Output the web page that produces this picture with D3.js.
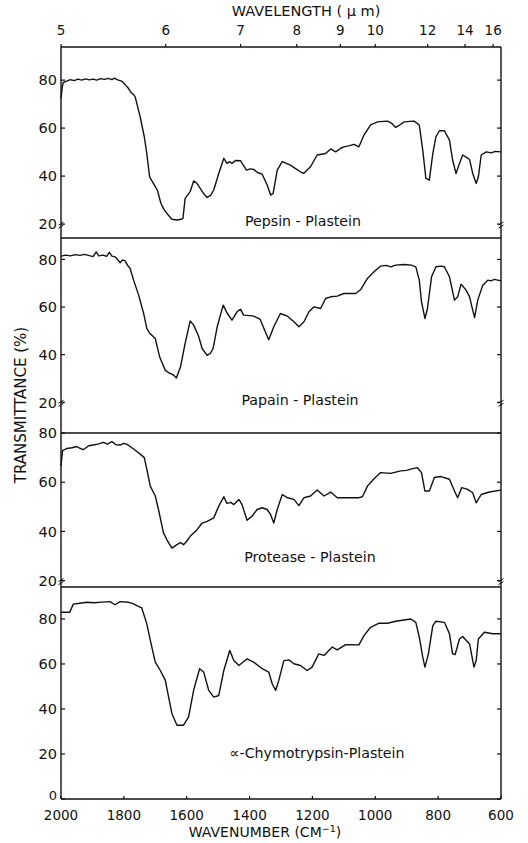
<!DOCTYPE html>
<html><head><meta charset="utf-8">
<script src="https://cdn.jsdelivr.net/npm/d3@7"></script>
<style>
html,body{margin:0;padding:0;background:#fff;}
svg{display:block;}
text{font-family:"DejaVu Sans",sans-serif;fill:#111;}
</style></head>
<body>
<svg id="c" width="528" height="843"></svg>
<script>
// ---- data (wavenumber cm-1, transmittance %) ----
const wavenumberTicks = [2000,1800,1600,1400,1200,1000,800,600];
const wavelengthTicks = [5,6,7,8,9,10,12,14,16];
const panelNames = ["Pepsin - Plastein","Papain - Plastein","Protease - Plastein","\u221D-Chymotrypsin-Plastein"];
const panelYTicks = [[20,40,60,80],[20,40,60,80],[20,40,60,80],[0,20,40,60,80]];

const pepsin = [[2000,72.4],[1996,77],[1993,79],[1982,79.6],[1970,80.2],[1958,79.8],[1946,80.4],[1934,80],[1922,80.5],[1910,80.1],[1898,80.4],[1886,80],[1874,80.6],[1862,80.3],[1850,80.7],[1838,80.2],[1830,80.8],[1820,80.1],[1807,79.6],[1795,78],[1785,76.5],[1775,74.5],[1769,74],[1764,73],[1748,64.7],[1735,56.4],[1727,49.4],[1718,39.7],[1706,37],[1693,34],[1682,28.6],[1672,26],[1663,24.4],[1647,22],[1631,21.7],[1618,22],[1612,22.4],[1605,30.7],[1589,33.5],[1578,38],[1567,36.9],[1557,34.9],[1545,32.5],[1535,31.1],[1524,32],[1514,34.2],[1498,41.1],[1482,47.4],[1472,45.3],[1464,46],[1456,45.3],[1445,46.5],[1429,46.4],[1410,42.5],[1398,43],[1387,42.8],[1375,41.5],[1360,40.8],[1344,36.3],[1333,32.1],[1325,32.8],[1312,42.5],[1296,46],[1270,44.6],[1250,42.8],[1238,41.8],[1228,41.1],[1206,43.9],[1185,48.8],[1158,49.4],[1142,51.3],[1126,50.1],[1110,51.6],[1100,52.2],[1085,52.6],[1068,53.2],[1052,52.2],[1036,57.1],[1015,61.3],[993,62.6],[975,62.8],[961,62.9],[948,62],[935,60.3],[920,61.5],[908,62.6],[890,62.8],[876,62.9],[860,61.3],[849,50.8],[839,39],[828,38.3],[817,49.4],[807,56.4],[796,58.9],[780,58.9],[764,55],[754,46.7],[743,41.1],[732,45.3],[722,48.8],[710,47.8],[700,46.9],[690,41.1],[679,36.9],[672,39.7],[663,48.8],[647,50.1],[631,49.7],[618,50.3],[600,50.1]];

const papain = [[2000,81.4],[1985,81.8],[1970,81.5],[1955,82],[1940,81.7],[1925,82.1],[1910,81.6],[1898,81.2],[1888,83.2],[1880,81.5],[1866,81.8],[1855,81.3],[1846,83],[1838,81.4],[1828,81.1],[1820,80],[1812,78.6],[1804,79.8],[1796,79.4],[1788,77.5],[1780,76.2],[1769,71.3],[1753,65],[1737,57.3],[1727,51],[1718,49],[1711,48.2],[1700,46.8],[1686,39],[1668,33.4],[1655,32.2],[1647,31.8],[1640,31.2],[1633,30.2],[1620,34.8],[1605,44.7],[1589,54.2],[1578,52.4],[1562,47.7],[1551,42.6],[1535,39.7],[1525,40.5],[1516,42.6],[1503,51.7],[1484,60.8],[1472,57.6],[1456,54.5],[1440,58],[1429,59.1],[1419,56.6],[1400,56.4],[1387,56.2],[1366,54.8],[1350,49.6],[1339,46.3],[1323,51.7],[1302,57.3],[1280,56.2],[1259,53.8],[1243,51.7],[1227,53.8],[1211,58],[1195,60.1],[1174,59.4],[1158,63.6],[1142,64.3],[1121,64.6],[1100,65.7],[1062,65.7],[1046,67.4],[1025,72],[1004,74.8],[983,77.2],[965,77.5],[951,76.9],[935,77.6],[908,77.9],[885,77.6],[871,76.9],[860,71.3],[853,62.2],[842,55.2],[834,59.4],[821,72.7],[807,76.9],[791,77.2],[780,76.9],[764,72.7],[748,62.9],[738,64.3],[727,69.6],[711,67.1],[700,64.3],[690,58.7],[684,55.6],[674,62.9],[658,69.2],[642,71.3],[632,71],[621,71.6],[600,71]];

const protease = [[2000,66.6],[1995,72.8],[1982,73.7],[1965,74],[1950,74.5],[1940,73.8],[1929,73.2],[1912,74.8],[1897,75.1],[1880,75.6],[1865,76.2],[1852,75.5],[1838,76.5],[1825,75.2],[1812,75.1],[1800,75.8],[1791,75.5],[1780,74.5],[1769,73.5],[1758,72.4],[1748,71.4],[1735,70],[1727,65.3],[1716,58.4],[1700,54.4],[1690,49],[1674,39.4],[1663,36.6],[1647,33.2],[1640,33.8],[1631,34.6],[1620,35.5],[1610,34.6],[1600,36],[1589,38],[1567,40.7],[1551,43.4],[1535,44.1],[1514,45.5],[1498,50.3],[1482,54.1],[1472,51.4],[1460,51.8],[1450,50.9],[1434,53],[1424,50.9],[1408,44.5],[1392,46.2],[1376,48.9],[1360,49.6],[1344,48.9],[1333,46.8],[1323,43.4],[1312,48.9],[1296,55],[1280,53.7],[1259,53],[1243,50.5],[1227,53.7],[1206,54.4],[1185,56.8],[1163,54.4],[1142,56],[1121,53.7],[1089,53.7],[1052,53.7],[1041,54.1],[1025,58.4],[1004,61.4],[983,63.9],[951,63.6],[919,64.6],[900,64.8],[887,65.3],[866,65.9],[853,63.9],[842,56.4],[828,56.4],[812,61.9],[791,62.3],[764,61.2],[748,56.4],[738,53.7],[725,57.8],[706,57.1],[690,55.7],[679,51.6],[663,55],[637,56],[600,56.8]];

const chymotrypsin = [[2000,83],[1972,83],[1961,86.6],[1940,87],[1918,87.4],[1895,87.2],[1870,87.5],[1844,87.7],[1828,86.3],[1812,87.7],[1785,87.4],[1770,86.8],[1759,85.9],[1743,84.9],[1727,77.8],[1711,67.5],[1700,60.8],[1684,57.1],[1668,52.7],[1663,49],[1647,37.9],[1631,32.8],[1610,32.8],[1594,36.5],[1578,48.3],[1559,57.9],[1546,56.4],[1530,48.3],[1514,45.3],[1498,46],[1482,57.1],[1463,66],[1450,61.5],[1434,59.3],[1408,62.3],[1387,60.8],[1360,57.9],[1339,56.4],[1328,51.2],[1317,48.3],[1307,52.7],[1291,61.5],[1275,61.8],[1259,60.1],[1238,59.3],[1217,57.1],[1201,58.6],[1180,64.5],[1163,63.8],[1137,67.5],[1121,66.3],[1094,68.6],[1052,68.5],[1036,72.6],[1015,76.3],[988,78.1],[961,78.1],[935,79],[887,80],[871,78.5],[860,71.9],[849,63],[842,58.6],[831,64.5],[817,77],[807,79],[780,78.5],[764,73.4],[754,64.5],[746,64.2],[732,71.1],[722,72.2],[700,68.9],[686,58.6],[679,61.5],[672,71.1],[653,74.1],[626,73.4],[600,73.4]];

const series = [pepsin, papain, protease, chymotrypsin];

// ---- layout ----
const L = 61, R = 501;
const panelLayout = [
  {top:47,  bottom:238, lo:14.2, hi:93.8},
  {top:238, bottom:433, lo:7.1,  hi:89.0},
  {top:433, bottom:587, lo:17.4, hi:80.0},
  {top:587, bottom:799, lo:0,    hi:94.2}
];
const labelPos = [[303,226],[300,405],[310,562],[317,758]];

const svg = d3.select("#c");
const x = d3.scaleLinear().domain([2000,600]).range([L,R]);
const stroke = "#111";

panelLayout.forEach((p,i)=>{
  const y = d3.scaleLinear().domain([p.lo,p.hi]).range([p.bottom,p.top]);
  const g = svg.append("g");
  g.append("line").attr("x1",L).attr("x2",L).attr("y1",p.top).attr("y2",p.bottom).attr("stroke",stroke).attr("stroke-width",1.4);
  g.append("line").attr("x1",R).attr("x2",R).attr("y1",p.top).attr("y2",p.bottom).attr("stroke",stroke).attr("stroke-width",1.4);
  g.append("line").attr("x1",L).attr("x2",R).attr("y1",p.top).attr("y2",p.top).attr("stroke",stroke).attr("stroke-width",1.4);
  if(i===3) g.append("line").attr("x1",L).attr("x2",R).attr("y1",p.bottom).attr("y2",p.bottom).attr("stroke",stroke).attr("stroke-width",1.4);

  panelYTicks[i].forEach(t=>{
    const yy = y(t);
    g.append("line").attr("x1",L).attr("x2",L+4).attr("y1",yy).attr("y2",yy).attr("stroke",stroke).attr("stroke-width",1.2);
    g.append("line").attr("x1",R-4).attr("x2",R).attr("y1",yy).attr("y2",yy).attr("stroke",stroke).attr("stroke-width",1.2);
    g.append("text").attr("x",L-4).attr("y",yy).attr("dy",(i===3&&t===0)?"0.1em":"0.36em").attr("text-anchor","end")
      .attr("font-size",(i===3&&t===0)?13:14.5).text(t);
  });
  if(i<3){
    const yy = y(20);
    [L,R].forEach(xx=>{
      g.append("path").attr("d",`M${xx-2.5},${yy+1}l5,-3M${xx-2.5},${yy+4}l5,-3`)
        .attr("stroke",stroke).attr("stroke-width",1).attr("fill","none");
    });
  }

  const line = d3.line().x(d=>x(d[0])).y(d=>y(d[1])).curve(d3.curveLinear);
  g.append("path").datum(series[i]).attr("d",line).attr("fill","none")
    .attr("stroke",stroke).attr("stroke-width",1.4).attr("stroke-linejoin","round");

  g.append("text").attr("x",labelPos[i][0]).attr("y",labelPos[i][1]).attr("text-anchor","middle")
    .attr("font-size",14.2).text(panelNames[i]);
});

// bottom axis
const bottomY = panelLayout[3].bottom;
wavenumberTicks.forEach(t=>{
  svg.append("line").attr("x1",x(t)).attr("x2",x(t)).attr("y1",bottomY).attr("y2",bottomY-3).attr("stroke",stroke).attr("stroke-width",1.2);
  svg.append("text").attr("x",x(t)).attr("y",820).attr("text-anchor","middle").attr("font-size",13.5).text(t);
});
const bt = svg.append("text").attr("x",265).attr("y",837).attr("text-anchor","middle").attr("font-size",14);
bt.append("tspan").text("WAVENUMBER (CM");
bt.append("tspan").attr("font-size",9.5).attr("dy",-5).text("\u22121");
bt.append("tspan").attr("dy",5).text(")");

// top axis (wavelength, µm)
const topY = panelLayout[0].top;
wavelengthTicks.forEach(t=>{
  const xx = x(10000/t);
  svg.append("line").attr("x1",xx).attr("x2",xx).attr("y1",topY).attr("y2",topY-3).attr("stroke",stroke).attr("stroke-width",1.2);
  svg.append("text").attr("x",xx).attr("y",35).attr("text-anchor","middle").attr("font-size",13.5).text(t);
});
svg.append("text").attr("x",306).attr("y",16).attr("text-anchor","middle").attr("font-size",14.5).text("WAVELENGTH ( \u03BC m)");

// y title
svg.append("text").attr("transform","translate(26,405) rotate(-90)").attr("text-anchor","middle")
  .attr("font-size",15).text("TRANSMITTANCE (%)");
</script>
</body></html>
